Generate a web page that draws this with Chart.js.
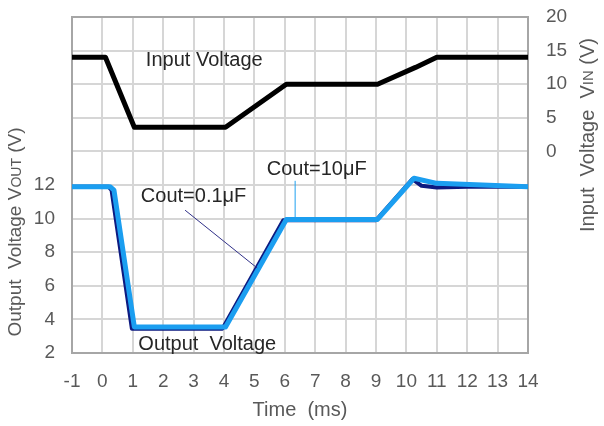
<!DOCTYPE html>
<html>
<head>
<meta charset="utf-8">
<script src="https://cdn.jsdelivr.net/npm/chart.js@4.4.0/dist/chart.umd.min.js"></script>
<style>
  html, body { margin: 0; padding: 0; background: #fff; }
</style>
</head>
<body>
<canvas id="grafico" width="604" height="426"></canvas>
<script>
// tempo (ms) e tensões
const TEMPO_VIN = [-1, 0.1, 1.05, 4.05, 6.05, 9.05, 10.3, 11.0, 14];
const VIN       = [14, 14, 3.6, 3.6, 10, 10, 12.5, 14, 14];

const TEMPO_COUT_01 = [-1, 0.2, 0.3, 0.97, 3.95, 5.95, 9.0, 10.2, 10.5, 11, 12, 14];
const VOUT_COUT_01  = [11.9, 11.9, 11.7, 3.45, 3.45, 9.9, 9.9, 12.35, 11.95, 11.85, 11.9, 11.9];

const TEMPO_COUT_10 = [-1, 0.25, 0.38, 1.05, 4.05, 6.05, 9.05, 10.25, 11, 14];
const VOUT_COUT_10  = [11.9, 11.9, 11.7, 3.55, 3.55, 9.95, 9.95, 12.4, 12.1, 11.9];

const TICKS_X = [-1, 0, 1, 2, 3, 4, 5, 6, 7, 8, 9, 10, 11, 12, 13, 14];
const TICKS_VOUT = [2, 4, 6, 8, 10, 12];
const TICKS_VIN = [0, 5, 10, 15, 20];

// textos e linhas de chamada (coordenadas em ms / V de saída)
const TEXTOS = [
    { texto: "Input Voltage", t: 3.35, v: 19.4 },
    { texto: "Cout=0.1\u03bcF", t: 3.0, v: 11.3 },
    { texto: "Cout=10\u03bcF", t: 7.05, v: 12.9 },
    { texto: "Output  Voltage", t: 3.45, v: 2.5 }
];
const LINHAS_GUIA = [
    { t1: 2.72, v1: 10.5, t2: 5.09, v2: 7.06, cor: "#303088" },
    { t1: 6.34, v1: 12.25, t2: 6.34, v2: 10.0, cor: "#1ea0f0" }
];

const FONTE = "'Liberation Sans', Arial, sans-serif";
const COR_TEXTO = "#595959";

function pares(xs, ys) {
    return xs.map((x, i) => ({ x: x, y: ys[i] }));
}

function desenharTituloVertical(ctx, x, y, partes) {
    ctx.save();
    ctx.translate(x, y);
    ctx.rotate(-Math.PI / 2);
    let total = 0;
    partes.forEach(p => {
        ctx.font = p.tam + "px " + FONTE;
        total += ctx.measureText(p.txt).width;
    });
    let pos = -total / 2;
    ctx.fillStyle = COR_TEXTO;
    ctx.textBaseline = "middle";
    ctx.textAlign = "left";
    partes.forEach(p => {
        ctx.font = p.tam + "px " + FONTE;
        ctx.fillText(p.txt, pos, p.desloc || 0);
        pos += ctx.measureText(p.txt).width;
    });
    ctx.restore();
}

const anotacoes = {
    id: "anotacoes",
    afterDatasetsDraw(chart) {
        const ctx = chart.ctx;
        const sx = chart.scales.x;
        const sy = chart.scales.y;

        LINHAS_GUIA.forEach(l => {
            ctx.save();
            ctx.strokeStyle = l.cor;
            ctx.lineWidth = 1;
            ctx.beginPath();
            ctx.moveTo(sx.getPixelForValue(l.t1), sy.getPixelForValue(l.v1));
            ctx.lineTo(sx.getPixelForValue(l.t2), sy.getPixelForValue(l.v2));
            ctx.stroke();
            ctx.restore();
        });

        ctx.save();
        ctx.font = "20px " + FONTE;
        ctx.fillStyle = "#262626";
        ctx.textAlign = "center";
        ctx.textBaseline = "middle";
        TEXTOS.forEach(a => {
            ctx.fillText(a.texto, sx.getPixelForValue(a.t), sy.getPixelForValue(a.v));
        });
        ctx.restore();
    },
    afterDraw(chart) {
        const ctx = chart.ctx;
        desenharTituloVertical(ctx, 16, 232, [
            { txt: "Output  Voltage V", tam: 19 },
            { txt: "OUT", tam: 14, desloc: 1 },
            { txt: " (V)", tam: 19 }
        ]);
        desenharTituloVertical(ctx, 588, 135, [
            { txt: "Input  Voltage  V", tam: 20 },
            { txt: "IN", tam: 15, desloc: 1 },
            { txt: " (V)", tam: 20 }
        ]);
    }
};

const ctx = document.getElementById("grafico").getContext("2d");

new Chart(ctx, {
    type: "line",
    data: {
        datasets: [
            {
                label: "Cout=10\u03bcF",
                data: pares(TEMPO_COUT_10, VOUT_COUT_10),
                borderColor: "#1b9ef0",
                borderWidth: 5,
                yAxisID: "y",
                order: 0
            },
            {
                label: "Cout=0.1\u03bcF",
                data: pares(TEMPO_COUT_01, VOUT_COUT_01),
                borderColor: "#0d1a80",
                borderWidth: 4,
                yAxisID: "y",
                order: 1
            },
            {
                label: "Input Voltage",
                data: pares(TEMPO_VIN, VIN),
                borderColor: "#000000",
                borderWidth: 5,
                yAxisID: "y2",
                order: 2
            }
        ]
    },
    options: {
        responsive: false,
        animation: false,
        devicePixelRatio: 1,
        elements: {
            point: { radius: 0 },
            line: { tension: 0, borderJoinStyle: "round", borderCapStyle: "butt" }
        },
        layout: { padding: { top: 17, left: 0, right: 0, bottom: 0 } },
        plugins: {
            legend: { display: false },
            tooltip: { enabled: false }
        },
        scales: {
            x: {
                type: "linear",
                min: -1,
                max: 14,
                afterBuildTicks: s => { s.ticks = TICKS_X.map(v => ({ value: v })); },
                afterFit: s => { s.height = 73; },
                grid: {
                    color: c => (c.tick.value === -1 || c.tick.value === 14) ? "#a6a6a6" : "#d6d6d6",
                    lineWidth: 2,
                    drawTicks: false
                },
                border: { color: "#a6a6a6", width: 2 },
                ticks: {
                    color: COR_TEXTO,
                    font: { family: FONTE, size: 19 },
                    padding: 17,
                    maxRotation: 0,
                    autoSkip: false
                },
                title: {
                    display: true,
                    text: "Time  (ms)",
                    color: COR_TEXTO,
                    font: { family: FONTE, size: 20 },
                    padding: { top: 0, bottom: 4 }
                }
            },
            y: {
                position: "left",
                min: 2,
                max: 22,
                afterBuildTicks: s => {
                    const t = [];
                    for (let v = 2; v <= 22; v += 2) t.push({ value: v });
                    s.ticks = t;
                },
                afterFit: s => { s.width = 72; s.paddingTop = 0; s.paddingBottom = 0; },
                grid: {
                    color: c => c.tick.value === 22 ? "#a6a6a6" : "#d6d6d6",
                    lineWidth: 2,
                    drawTicks: false
                },
                border: { color: "#a6a6a6", width: 2 },
                ticks: {
                    color: COR_TEXTO,
                    font: { family: FONTE, size: 19 },
                    padding: 17,
                    callback: v => TICKS_VOUT.includes(v) ? String(v) : ""
                }
            },
            y2: {
                position: "right",
                min: -30,
                max: 20,
                afterBuildTicks: s => {
                    const t = [];
                    for (let v = -30; v <= 20; v += 5) t.push({ value: v });
                    s.ticks = t;
                },
                afterFit: s => { s.width = 76; s.paddingTop = 0; s.paddingBottom = 0; },
                grid: { display: false, drawTicks: false },
                border: { color: "#a6a6a6", width: 2 },
                ticks: {
                    color: COR_TEXTO,
                    font: { family: FONTE, size: 19 },
                    padding: 18,
                    callback: v => TICKS_VIN.includes(v) ? String(v) : ""
                }
            }
        }
    },
    plugins: [anotacoes]
});
</script>
</body>
</html>
